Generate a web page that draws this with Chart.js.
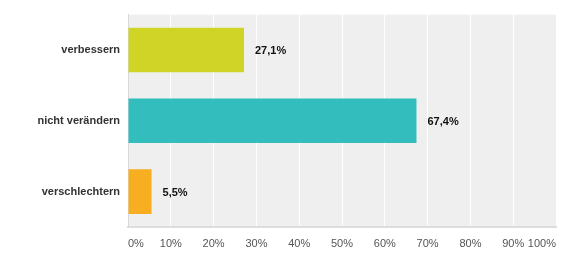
<!DOCTYPE html>
<html>
<head>
<meta charset="utf-8">
<script src="https://cdn.jsdelivr.net/npm/chart.js@4/dist/chart.umd.min.js"></script>
<style>
  html, body { margin: 0; padding: 0; background: #fff; }
  #wrap { width: 580px; height: 256px; }
</style>
</head>
<body>
<div id="wrap"><canvas id="myChart"></canvas></div>
<script>
// Daten
var kategorien = ['verbessern', 'nicht verändern', 'verschlechtern'];
var anteile = [27.1, 67.4, 5.5];
var farben = ['#cfd427', '#33bdbd', '#f7ae20'];
var achsenMax = 100;
var schritt = 10;

// Plot-Hintergrund und Prozentwerte neben den Balken
var hintergrund = {
    id: 'hintergrund',
    beforeDraw: function (chart) {
        var a = chart.chartArea, c = chart.ctx;
        c.save();
        c.fillStyle = '#efefef';
        c.fillRect(a.left, a.top, a.right - a.left, a.bottom - a.top);
        c.restore();
    }
};

var wertLabels = {
    id: 'wertLabels',
    afterDatasetsDraw: function (chart) {
        var c = chart.ctx;
        var meta = chart.getDatasetMeta(0);
        c.save();
        c.font = 'bold 11px "Liberation Sans", Arial, sans-serif';
        c.fillStyle = '#111';
        c.textAlign = 'left';
        c.textBaseline = 'middle';
        meta.data.forEach(function (bar, i) {
            var txt = anteile[i].toFixed(1).replace('.', ',') + '%';
            c.fillText(txt, bar.x + 11, bar.y + 1);
        });
        c.restore();
    }
};

var ctx = document.getElementById('myChart').getContext('2d');
var myChart = new Chart(ctx, {
    type: 'bar',
    data: {
        labels: kategorien,
        datasets: [{
            data: anteile,
            backgroundColor: farben,
            borderWidth: 0,
            categoryPercentage: 0.63,
            barPercentage: 1
        }]
    },
    options: {
        indexAxis: 'y',
        responsive: true,
        maintainAspectRatio: false,
        animation: false,
        layout: { padding: { top: 13, right: 24, left: 0, bottom: 0 } },
        plugins: {
            legend: { display: false },
            tooltip: { enabled: false }
        },
        scales: {
            x: {
                min: 0,
                max: achsenMax,
                ticks: {
                    stepSize: schritt,
                    align: 'inner',
                    padding: 10,
                    color: '#555',
                    font: { family: '"Liberation Sans", Arial, sans-serif', size: 11 },
                    callback: function (v) { return v + '%'; }
                },
                grid: { color: '#ffffff', lineWidth: 1, drawTicks: false },
                border: { display: true, color: '#dddddd', width: 2 },
                afterFit: function (scale) { scale.height = 29; }
            },
            y: {
                ticks: {
                    padding: 8,
                    color: '#333',
                    font: { family: '"Liberation Sans", Arial, sans-serif', size: 11, weight: 'bold' }
                },
                grid: { display: false, drawTicks: false },
                border: { display: true, color: '#d8d8d8', width: 1 },
                afterFit: function (scale) { scale.width = 128; }
            }
        }
    },
    plugins: [hintergrund, wertLabels]
});
</script>
</body>
</html>
